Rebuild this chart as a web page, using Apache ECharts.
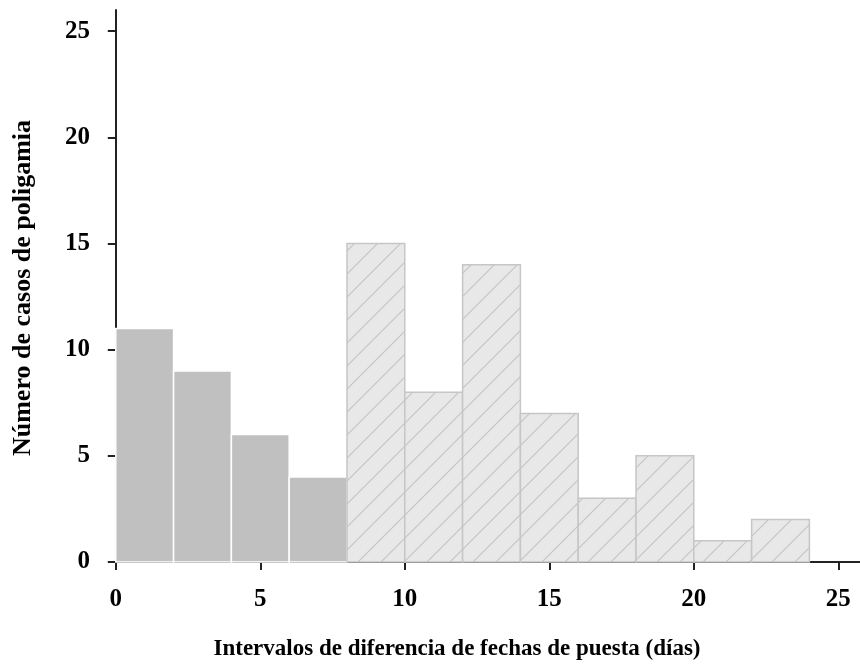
<!DOCTYPE html>
<html>
<head>
<meta charset="utf-8">
<script src="https://cdn.jsdelivr.net/npm/echarts@6/dist/echarts.min.js"></script>
<style>
html,body{margin:0;padding:0;background:#fff;}
#chart{width:860px;height:669px;}
</style>
</head>
<body>
<div id="chart"></div>
<script>
// Data
var binStartsSolid = [0, 2, 4, 6];
var countsSolid = [11, 9, 6, 4];
var binStartsHatched = [8, 10, 12, 14, 16, 18, 20, 22];
var countsHatched = [15, 8, 14, 7, 3, 5, 1, 2];
var binWidth = 2;
var xTicks = [0, 5, 10, 15, 20, 25];
var yTicks = [0, 5, 10, 15, 20, 25];
var xTitle = 'Intervalos de diferencia de fechas de puesta (días)';
var yTitle = 'Número de casos de poligamia';

var font = '"Liberation Serif", "Times New Roman", serif';

// hatch pattern
var pat = document.createElement('canvas');
var P = 23;
pat.width = P; pat.height = P;
var ctx = pat.getContext('2d');
ctx.fillStyle = '#e8e8e8';
ctx.fillRect(0, 0, P, P);
ctx.strokeStyle = '#c4c4c4';
ctx.lineWidth = 1.2;
ctx.beginPath();
ctx.moveTo(-2, P + 2); ctx.lineTo(P + 2, -2);
ctx.moveTo(-2, 2); ctx.lineTo(2, -2);
ctx.moveTo(P - 2, P + 2); ctx.lineTo(P + 2, P - 2);
ctx.stroke();

function toData(starts, counts) {
  return starts.map(function (s, i) { return [s, s + binWidth, counts[i]]; });
}

function makeRender(fill, stroke, lw) {
  return function (params, api) {
    var p0 = api.coord([api.value(0), api.value(2)]);
    var p1 = api.coord([api.value(1), 0]);
    return {
      type: 'rect',
      shape: { x: p0[0], y: p0[1], width: p1[0] - p0[0], height: p1[1] - p0[1] },
      style: { fill: fill, stroke: stroke, lineWidth: lw }
    };
  };
}

var chart = echarts.init(document.getElementById('chart'), null, { renderer: 'canvas' });
chart.setOption({
  animation: false,
  backgroundColor: '#ffffff',
  grid: { left: 110, right: 0, top: 10, bottom: 107, containLabel: false },
  xAxis: {
    type: 'value', min: -0.2, max: 25.75,
    splitLine: { show: false },
    axisLine: { show: true, lineStyle: { color: '#222', width: 2 } },
    axisTick: { show: true, length: 8, inside: false, customValues: xTicks, lineStyle: { color: '#222', width: 2 } },
    axisLabel: { customValues: xTicks, margin: 25, color: '#000', fontFamily: font, fontWeight: 'bold', fontSize: 25 }
  },
  yAxis: {
    type: 'value', min: 0, max: 26,
    splitLine: { show: false },
    axisLine: { show: true, lineStyle: { color: '#222', width: 2 } },
    axisTick: { show: true, length: 8, customValues: yTicks, lineStyle: { color: '#222', width: 2 } },
    axisLabel: { customValues: yTicks, margin: 20, color: '#000', fontFamily: font, fontWeight: 'bold', fontSize: 25 }
  },
  graphic: [
    { type: 'text', x: 457, y: 649, style: { text: xTitle, fill: '#000', font: 'bold 23px ' + font, align: 'center', verticalAlign: 'middle' } },
    { type: 'text', x: 23, y: 288, rotation: Math.PI / 2, style: { text: yTitle, fill: '#000', font: 'bold 26px ' + font, align: 'center', verticalAlign: 'middle' } }
  ],
  series: [
    { type: 'custom', data: toData(binStartsSolid, countsSolid), renderItem: makeRender('#c0c0c0', '#ffffff', 1.5), encode: { x: [0, 1], y: 2 }, z: 2 },
    { type: 'custom', data: toData(binStartsHatched, countsHatched), renderItem: makeRender({ image: pat, repeat: 'repeat' }, '#c6c6c6', 1.5), encode: { x: [0, 1], y: 2 }, z: 2 }
  ]
});
</script>
</body>
</html>
